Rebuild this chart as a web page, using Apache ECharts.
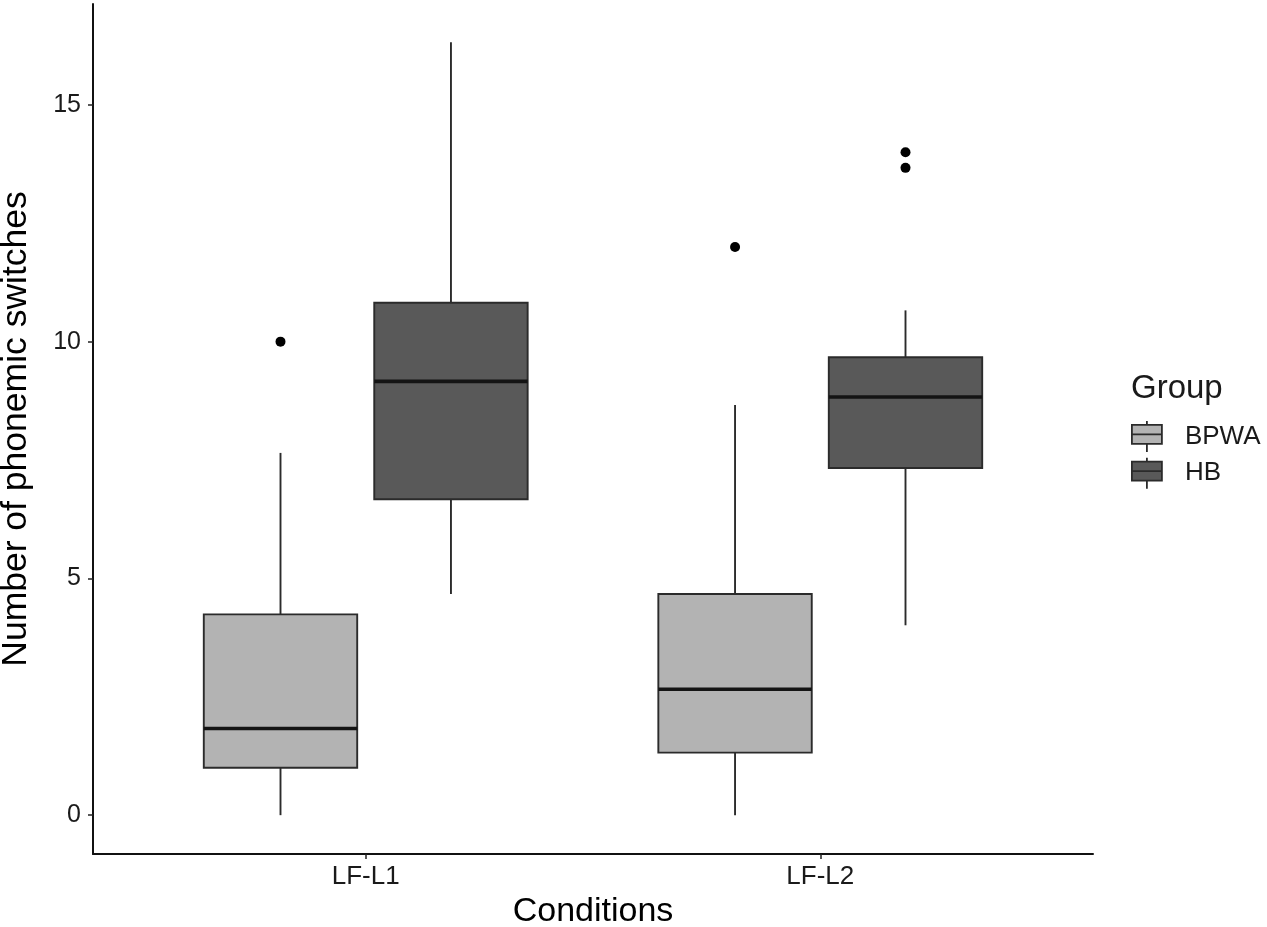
<!DOCTYPE html>
<html><head><meta charset="utf-8">
<script src="https://cdn.jsdelivr.net/npm/echarts@6/dist/echarts.min.js"></script>
<style>html,body{margin:0;padding:0;background:#fff}#c{width:1267px;height:927px}</style>
</head><body><div id="c"></div>
<script>
// ---- data ----
const categories = ['LF-L1', 'LF-L2'];
const groups = ['BPWA', 'HB'];
// per category: [lower whisker, Q1, median, Q3, upper whisker]
const bpwaStats = [[0, 1.00, 1.83, 4.24, 7.65], [0, 1.32, 2.66, 4.67, 8.66]];
const hbStats = [[4.67, 6.67, 9.16, 10.82, 16.32], [4.01, 7.33, 8.83, 9.67, 10.66]];
// outliers: [category index, value]
const bpwaOutliers = [[0, 10], [1, 12]];
const hbOutliers = [[1, 14], [1, 13.67]];
const yTicks = [0, 5, 10, 15];

// ---- layout helpers (dodged positions as in ggplot) ----
const DODGE = 0.1875, BOX_W = 0.3375;
const offsets = { BPWA: -DODGE, HB: DODGE };
const fills = { BPWA: '#b3b3b3', HB: '#595959' };
const FONT = 'Liberation Sans, Arial, Helvetica, sans-serif';

function boxData(stats, g) {
  return stats.map((s, i) => [i + 1 + offsets[g]].concat(s));
}
function outData(out, g) {
  return out.map(o => [o[0] + 1 + offsets[g], o[1]]);
}
function renderBox(params, api) {
  const x = api.value(0);
  const lo = api.coord([x, api.value(1)]);
  const q1 = api.coord([x, api.value(2)]);
  const md = api.coord([x, api.value(3)]);
  const q3 = api.coord([x, api.value(4)]);
  const hi = api.coord([x, api.value(5)]);
  const hw = api.size([BOX_W, 0])[0] / 2;
  const col = api.visual('color');
  const ls = { stroke: '#2b2b2b', lineWidth: 1.9 };
  return {
    type: 'group',
    children: [
      { type: 'line', shape: { x1: hi[0], y1: hi[1], x2: q3[0], y2: q3[1] }, style: ls },
      { type: 'line', shape: { x1: lo[0], y1: lo[1], x2: q1[0], y2: q1[1] }, style: ls },
      { type: 'rect', shape: { x: q3[0] - hw, y: q3[1], width: 2 * hw, height: q1[1] - q3[1] },
        style: { fill: col, stroke: '#2b2b2b', lineWidth: 1.9 } },
      { type: 'line', shape: { x1: md[0] - hw, y1: md[1], x2: md[0] + hw, y2: md[1] },
        style: { stroke: '#141414', lineWidth: 3.6 } }
    ]
  };
}

const legendIcon = 'path://M15,0 V4 M0,4 H30 V23 H0 Z M0,13.5 H30 M15,23 V31';

const chart = echarts.init(document.getElementById('c'), null, { renderer: 'canvas' });
chart.setOption({
  animation: false,
  backgroundColor: '#ffffff',
  textStyle: { fontFamily: FONT },
  grid: { left: 93, right: 174, top: 4, bottom: 73, containLabel: false, outerBoundsMode: 'none' },
  title: {
    text: 'Group', left: 1131, top: 372, padding: 0,
    textStyle: { fontFamily: FONT, fontSize: 33, fontWeight: 'normal', color: '#1a1a1a' }
  },
  legend: {
    orient: 'vertical', left: 1131, top: 420, padding: 0,
    itemWidth: 30, itemHeight: 31, itemGap: 4,
    data: groups.map(g => ({
      name: g, icon: legendIcon,
      itemStyle: { color: fills[g], borderColor: '#2b2b2b', borderWidth: 1.8 }
    })),
    textStyle: { fontFamily: FONT, fontSize: 26, color: '#1a1a1a', padding: [4, 0, 0, 18] }
  },
  xAxis: {
    type: 'value', min: 0.4, max: 2.6,
    name: 'Conditions', nameLocation: 'middle', nameGap: 38,
    nameTextStyle: { fontFamily: FONT, fontSize: 34, color: '#000' },
    axisLine: { onZero: false, lineStyle: { color: '#111', width: 2 } },
    axisTick: { customValues: [1, 2], length: 5, lineStyle: { color: '#222', width: 1.5 } },
    axisLabel: {
      customValues: [1, 2], margin: 10, fontSize: 26, color: '#1a1a1a', fontFamily: FONT,
      formatter: v => categories[Math.round(v) - 1]
    },
    splitLine: { show: false }
  },
  yAxis: {
    type: 'value', min: -0.82, max: 17.13,
    name: 'Number of phonemic switches', nameLocation: 'middle', nameGap: 59, nameRotate: 90,
    nameTextStyle: { fontFamily: FONT, fontSize: 35.5, color: '#000' },
    axisLine: { show: true, onZero: false, lineStyle: { color: '#111', width: 2 } },
    axisTick: { show: true, customValues: yTicks, length: 5, lineStyle: { color: '#222', width: 1.5 } },
    axisLabel: { customValues: yTicks, margin: 12, fontSize: 25, color: '#1a1a1a', fontFamily: FONT },
    splitLine: { show: false }
  },
  series: [
    {
      name: 'BPWA', type: 'custom', renderItem: renderBox,
      itemStyle: { color: fills.BPWA },
      encode: { x: 0, y: [1, 2, 3, 4, 5] },
      data: boxData(bpwaStats, 'BPWA'), z: 2
    },
    {
      name: 'HB', type: 'custom', renderItem: renderBox,
      itemStyle: { color: fills.HB },
      encode: { x: 0, y: [1, 2, 3, 4, 5] },
      data: boxData(hbStats, 'HB'), z: 2
    },
    {
      name: 'BPWA outliers', type: 'scatter', symbol: 'circle', symbolSize: 10,
      itemStyle: { color: '#000', opacity: 1 }, data: outData(bpwaOutliers, 'BPWA'), z: 3
    },
    {
      name: 'HB outliers', type: 'scatter', symbol: 'circle', symbolSize: 10,
      itemStyle: { color: '#000', opacity: 1 }, data: outData(hbOutliers, 'HB'), z: 3
    }
  ]
});
</script>
</body></html>
